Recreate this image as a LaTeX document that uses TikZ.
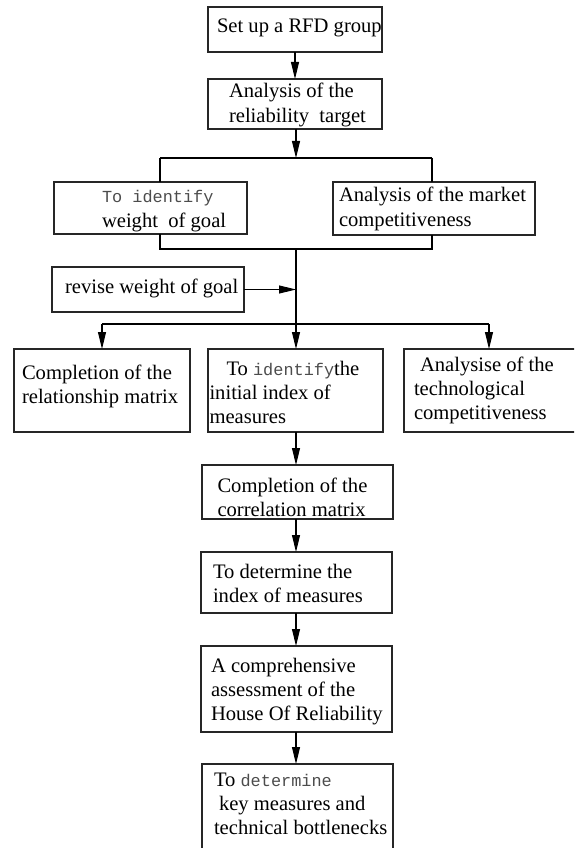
\documentclass[tikz,border=0pt]{standalone}
\usepackage{fontspec}
\setmainfont{Liberation Serif}
\newfontfamily\monofont{Liberation Mono}[Scale=0.82]
\usetikzlibrary{arrows.meta}

\newlength\pxunit
\setlength\pxunit{0.75pt}
\newcommand{\mono}[1]{{\monofont\color{black!70}#1}}
% width, height, left indent, first baseline, text
\newcommand{\stagetext}[5]{\parbox[c][#2\pxunit][t]{#1\pxunit}{\raggedright\leftskip=#3\pxunit\rule{0pt}{#4\pxunit}#5}}

\begin{document}
\begin{tikzpicture}[
    x = 0.75pt,
    y = -0.75pt,
    >={Triangle[length=12.75pt, width=6pt]},
    line width = 0.8pt,
    stage/.style = {draw=black!85, inner sep=0pt, outer sep=0pt,
    anchor=north west, font=\fontsize{15.45}{18.3}\selectfont},
]

\clip (0,0) rectangle (574,848);

\node[stage] (setup) at (208,7) {\stagetext{174}{45}{9}{26}{\mbox{Set up a RFD group}}};
\node[stage] (target) at (208,79) {\stagetext{174}{50}{21}{19}{Analysis of the\\reliability\ \ target}};
\node[stage] (weight) at (54,182) {\stagetext{193}{52}{48}{21}{\mono{To identify}\\weight\ \ of goal}};
\node[stage] (market) at (333,182) {\stagetext{202}{53}{6}{20}{Analysis of the market\\competitiveness}};
\node[stage] (revise) at (52,267) {\stagetext{192}{45}{13}{26}{revise weight of goal}};
\node[stage] (relation) at (14,349) {\stagetext{176}{83}{8}{30}{Completion of the\\relationship matrix}};
\node[stage] (initial) at (208,349) {\stagetext{175}{83}{1.5}{26}{\hspace*{17\pxunit}To \mono{identify}the\\initial index of\\measures}};
\node[stage] (techno) at (404,349) {\stagetext{180}{83}{10}{22}{\hspace*{6\pxunit}Analysise of the\\technological\\competitiveness}};
\node[stage] (correl) at (202,465) {\stagetext{191}{54}{15.5}{27}{Completion of the\\correlation matrix}};
\node[stage] (determine) at (201,552) {\stagetext{191}{61}{12}{26}{To determine the\\index of measures}};
\node[stage] (assess) at (201,646) {\stagetext{191}{86}{10}{26}{A comprehensive\\assessment of the\\House Of Reliability}};
\node[stage] (bottleneck) at (202,764) {\stagetext{191}{100}{12}{22}{To \mono{determine}\\\hspace*{5\pxunit}key measures and\\technical bottlenecks}};

\coordinate (fork) at (296,158);
\coordinate (forkL) at (160,158);
\coordinate (forkR) at (432,158);
\coordinate (join) at (296,249);
\coordinate (joinL) at (160,249);
\coordinate (joinR) at (432,249);
\coordinate (branchL) at (102,324);
\coordinate (branchR) at (489,324);

\draw[->] (setup) -- (target);
\draw[->] (target.south -| fork) -- (fork);
\draw (forkL) -- (forkR);
\draw (forkL) -- (forkL |- weight.north);
\draw (forkR) -- (forkR |- market.north);
\draw (joinL |- weight.south) -- (joinL) -- (joinR) -- (joinR |- market.south);
\draw[->] (join) -- (join |- initial.north);
\draw[->] (revise) -- (revise -| join);
\draw (branchL) -- (branchR);
\draw[->] (branchL) -- (branchL |- relation.north);
\draw[->] (branchR) -- (branchR |- techno.north);
\draw[->] (initial.south -| join) -- (join |- correl.north);
\draw[->] (correl.south -| join) -- (join |- determine.north);
\draw[->] (determine.south -| join) -- (join |- assess.north);
\draw[->] (assess.south -| join) -- (join |- bottleneck.north);

\end{tikzpicture}
\end{document}
